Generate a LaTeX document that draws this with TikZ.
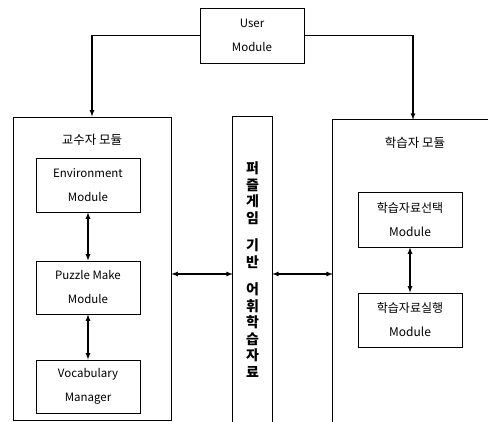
\documentclass[tikz,border=0pt]{standalone}
\usepackage{fontspec}
\setmainfont{Noto Sans CJK KR}
\usetikzlibrary{arrows, positioning, calc}

\begin{document}
\begin{tikzpicture}[x=1pt, y=1pt, >=latex,
    modbox/.style={draw, line width=0.8pt, minimum width=104pt, minimum height=54pt,
        align=center, inner sep=0pt, font=\fontsize{11.5}{24}\selectfont},
    korbox/.style={modbox, font=\fontsize{12}{24}\selectfont},
    frame/.style={inner sep=0pt},
    link/.style={<->, line width=1.2pt},
    title/.style={font=\fontsize{12.5}{15}\selectfont}]
\useasboundingbox (0,0) rectangle (488,422);

% User module on top
\node[modbox, minimum height=55pt] (user) at (252,386.5) {User\\Module};

% Teacher side
\node[frame, draw, line width=0.8pt, minimum width=158pt, minimum height=303pt] (teacher) at (92,153.5) {};
\node[title] (teachertitle) at (92,282) {교수자 모듈};
\node[modbox] (env) at (88,237) {Environment\\Module};
\node[modbox, minimum height=53pt] (puzzle) at (88,134.5) {Puzzle Make\\Module};
\node[modbox, minimum height=53pt] (vocab) at (88,35.5) {Vocabulary\\Manager};

% Middle column (open at the bottom)
\node[frame, minimum width=39pt, minimum height=305pt] (game) at (252.5,152.5) {};
\draw[line width=0.8pt] (game.south west) -- (game.north west) -- (game.north east) -- (game.south east);
\node[font=\bfseries\fontsize{14}{16.5}\selectfont, align=center] (gametext) at (game.center)
    {퍼\\즐\\게\\임\\[11pt]기\\반\\[11pt]어\\휘\\학\\습\\자\\료};

% Learner side (cut by the right edge)
\node[frame, minimum width=160pt, minimum height=302pt] (learner) at (413,151) {};
\draw[line width=0.8pt] (learner.south west) -- (learner.north west) -- (learner.north east);
\node[title] (learnertitle) at (415,279) {학습자 모듈};
\node[korbox, minimum height=55pt] (select) at (410,202.5) {학습자료선택\\Module};
\node[korbox] (run) at (410,102) {학습자료실행\\Module};

% Connectors
\draw[->, line width=1.2pt] (user.west) -| (teacher.north);
\draw[->, line width=1.2pt] (user.east) -| (learner.north);
\draw[link] (env) -- (puzzle);
\draw[link] (puzzle) -- (vocab);
\draw[link] (select) -- (run);
\coordinate (mid) at (0,148);
\draw[link] (teacher.east |- mid) -- (game.west |- mid);
\draw[link] (game.east |- mid) -- (learner.west |- mid);
\end{tikzpicture}
\end{document}
